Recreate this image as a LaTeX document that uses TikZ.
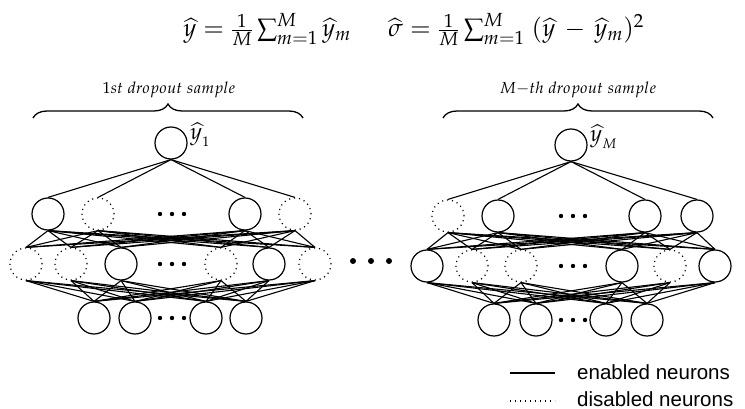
\documentclass[tikz,border=0pt]{standalone}
\usepackage{mathpazo}
\usepackage[no-math]{fontspec}
\newfontfamily\legendfont{Liberation Sans}
\usetikzlibrary{decorations.pathreplacing}
\begin{document}
\begin{tikzpicture}[x=1pt,y=-1pt,
  neuon/.style={circle,draw,line width=1.2pt,minimum size=32pt,inner sep=0pt},
  neuoff/.style={neuon,dash pattern=on 1.1pt off 3.9pt},
  edge/.style={line width=1.1pt},
  bracestyle/.style={decorate,decoration={brace,amplitude=14pt},line width=1.3pt},
  fml/.style={font=\fontsize{25}{30}\selectfont,inner sep=0pt},
  lbl/.style={font=\fontsize{16}{19}\selectfont,inner sep=0pt},
  outl/.style={font=\fontsize{23}{27}\selectfont,inner sep=0pt,anchor=west},
  legt/.style={font=\legendfont\fontsize{20.5}{24}\selectfont,inner sep=0pt,anchor=west},
  legdot/.style={line width=1.1pt,dash pattern=on 1pt off 4pt}]
\useasboundingbox (0,0) rectangle (745,409);

% formulas
\node[fml,anchor=base west] (f1) at (183,37) {$\widehat{y}=\frac{1}{M}\sum_{m=1}^{M}\widehat{y}_m$};
\node[fml,anchor=base west] (f2) at (388,37) {$\widehat{\sigma}=\frac{1}{M}\sum_{m=1}^{M}\;(\widehat{y}\,-\,\widehat{y}_m)^2$};

% braces and labels
\coordinate (b1a) at (33,118); \coordinate (b1b) at (303,118);
\coordinate (b2a) at (443,118); \coordinate (b2b) at (713,118);
\draw[bracestyle] (b1a) -- (b1b);
\draw[bracestyle] (b2a) -- (b2b);
\node[lbl] (lab1) at (169,90) {$1st\ dropout\ sample$};
\node[lbl] (lab2) at (578,90) {$M{-}th\ dropout\ sample$};

% left network
\node[neuon] (Lt) at (171,143) {};
\node[outl] (Ly) at (190,135) {$\widehat{y}_{_{1}}$};
\foreach \x/\s [count=\i] in {48/neuon,98/neuoff,245/neuon,295/neuoff}
  \node[\s] (La\i) at (\x,214) {};
\foreach \x/\s [count=\i] in {26/neuoff,71/neuoff,121/neuon,221/neuoff,269/neuon,315/neuoff}
  \node[\s] (Lb\i) at (\x,264) {};
\foreach \x [count=\i] in {94,135,206,246}
  \node[neuon] (Lc\i) at (\x,318) {};
\foreach \i in {1,...,4} \draw[edge] (Lt.south) -- (La\i.north);
\foreach \i in {1,...,4} \foreach \j in {1,...,6} \draw[edge] (La\i.south) -- (Lb\j.north);
\foreach \i in {1,...,6} \foreach \j in {1,...,4} \draw[edge] (Lb\i.south) -- (Lc\j.north);
\foreach \y in {214,264,318} \foreach \x in {160,172,184} \fill (\x,\y) circle (2.2pt);

% right network
\node[neuon] (Rt) at (571,145) {};
\node[outl] (Ry) at (590,137) {$\widehat{y}_{_{M}}$};
\foreach \x/\s [count=\i] in {448/neuoff,498/neuon,645/neuon,697/neuon}
  \node[\s] (Ra\i) at (\x,216) {};
\foreach \x/\s [count=\i] in {427/neuon,472/neuoff,521/neuoff,622/neuon,670/neuoff,715/neuon}
  \node[\s] (Rb\i) at (\x,266) {};
\foreach \x [count=\i] in {494,536,606,647}
  \node[neuon] (Rc\i) at (\x,320) {};
\foreach \i in {1,...,4} \draw[edge] (Rt.south) -- (Ra\i.north);
\foreach \i in {1,...,4} \foreach \j in {1,...,6} \draw[edge] (Ra\i.south) -- (Rb\j.north);
\foreach \i in {1,...,6} \foreach \j in {1,...,4} \draw[edge] (Rb\i.south) -- (Rc\j.north);
\foreach \y in {216,266,320} \foreach \x in {561,573,585} \fill (\x,\y) circle (2.2pt);

% middle dots
\foreach \x in {353,371,389} \fill (\x,261) circle (3pt);

% legend
\coordinate (g1a) at (510,373); \coordinate (g1b) at (555,373);
\coordinate (g2a) at (510,401); \coordinate (g2b) at (555,401);
\draw[line width=1.2pt] (g1a) -- (g1b);
\draw[legdot] (g2a) -- (g2b);
\node[legt] (gt1) at (577,372) {enabled neurons};
\node[legt] (gt2) at (577,399) {disabled neurons};
\end{tikzpicture}
\end{document}
